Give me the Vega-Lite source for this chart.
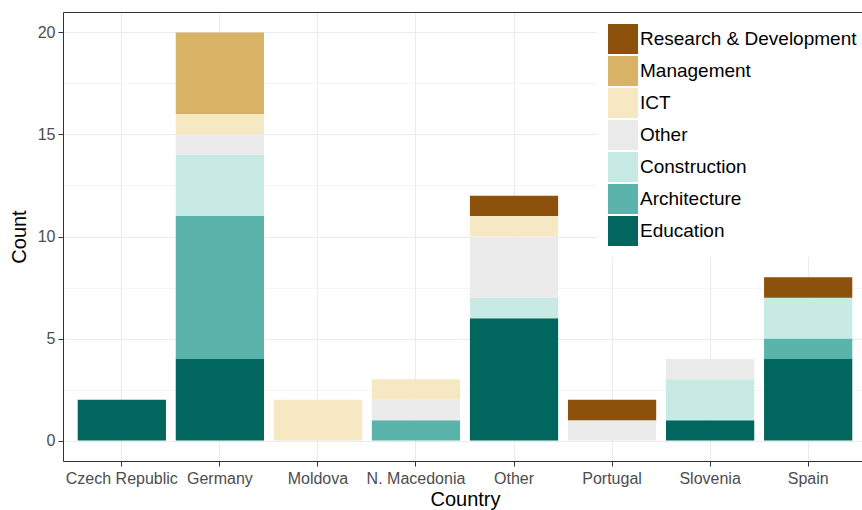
{
  "$schema": "https://vega.github.io/schema/vega-lite/v6.json",
  "width": 804,
  "height": 449,
  "autosize": "none",
  "padding": {"left": 63, "top": 12, "right": 0, "bottom": 49},
  "background": "white",
  "config": {
    "view": {"stroke": null},
    "font": "Liberation Sans"
  },
  "data": {
    "values": [
      {"Country": "Czech Republic", "Sector": "Education", "Count": 2},
      {"Country": "Germany", "Sector": "Education", "Count": 4},
      {"Country": "Germany", "Sector": "Architecture", "Count": 7},
      {"Country": "Germany", "Sector": "Construction", "Count": 3},
      {"Country": "Germany", "Sector": "Other", "Count": 1},
      {"Country": "Germany", "Sector": "ICT", "Count": 1},
      {"Country": "Germany", "Sector": "Management", "Count": 4},
      {"Country": "Moldova", "Sector": "ICT", "Count": 2},
      {"Country": "N. Macedonia", "Sector": "Architecture", "Count": 1},
      {"Country": "N. Macedonia", "Sector": "Other", "Count": 1},
      {"Country": "N. Macedonia", "Sector": "ICT", "Count": 1},
      {"Country": "Other", "Sector": "Education", "Count": 6},
      {"Country": "Other", "Sector": "Construction", "Count": 1},
      {"Country": "Other", "Sector": "Other", "Count": 3},
      {"Country": "Other", "Sector": "ICT", "Count": 1},
      {"Country": "Other", "Sector": "Research & Development", "Count": 1},
      {"Country": "Portugal", "Sector": "Other", "Count": 1},
      {"Country": "Portugal", "Sector": "Research & Development", "Count": 1},
      {"Country": "Slovenia", "Sector": "Education", "Count": 1},
      {"Country": "Slovenia", "Sector": "Construction", "Count": 2},
      {"Country": "Slovenia", "Sector": "Other", "Count": 1},
      {"Country": "Spain", "Sector": "Education", "Count": 4},
      {"Country": "Spain", "Sector": "Architecture", "Count": 1},
      {"Country": "Spain", "Sector": "Construction", "Count": 2},
      {"Country": "Spain", "Sector": "Research & Development", "Count": 1}
    ]
  },
  "transform": [
    {"calculate": "indexof(['Education', 'Architecture', 'Construction', 'Other', 'ICT', 'Management', 'Research & Development'], datum.Sector)", "as": "StackRank"}
  ],
  "encoding": {
    "y": {
      "field": "Count",
      "type": "quantitative",
      "stack": "zero",
      "scale": {"domain": [-1, 21], "nice": false, "zero": false},
      "axis": {
        "values": [0, 2.5, 5, 7.5, 10, 12.5, 15, 17.5, 20],
        "labelExpr": "datum.value % 5 === 0 ? datum.label : ''",
        "tickOpacity": {"condition": {"test": "datum.value % 5 === 0", "value": 1}, "value": 0},
        "gridWidth": {"condition": {"test": "datum.value % 5 === 0", "value": 1}, "value": 0.5},
        "labelFontSize": 16,
        "labelColor": "#4D4D4D",
        "labelPadding": 3,
        "tickColor": "#333333",
        "tickSize": 5,
        "domain": true,
        "domainColor": "#333333",
        "grid": true,
        "gridColor": "#EBEBEB",
        "title": "Count",
        "titleFontSize": 20,
        "titleFontWeight": "normal",
        "titleColor": "black",
        "titlePadding": 8
      }
    },
    "order": {"field": "StackRank", "type": "quantitative", "sort": "ascending"},
    "color": {
      "field": "Sector",
      "type": "nominal",
      "scale": {
        "domain": ["Research & Development", "Management", "ICT", "Other", "Construction", "Architecture", "Education"],
        "range": ["#8C510A", "#D8B365", "#F6E8C3", "#EBEBEB", "#C7EAE5", "#5AB4AC", "#01665E"]
      },
      "legend": {
        "orient": "none",
        "legendX": 534,
        "legendY": 1,
        "fillColor": "white",
        "padding": 11,
        "title": null,
        "symbolType": "square",
        "symbolSize": 900,
        "symbolStrokeWidth": 0,
        "symbolOpacity": 1,
        "labelFontSize": 19,
        "labelColor": "black",
        "labelOffset": 2,
        "labelLimit": 300,
        "rowPadding": 2
      }
    }
  },
  "layer": [
    {
      "mark": {"type": "bar"},
      "encoding": {
        "x": {
          "field": "Country",
          "type": "nominal",
          "scale": {"paddingInner": 0.1, "paddingOuter": 0.15},
          "axis": {
            "labelAngle": 0,
            "labelFontSize": 16,
            "labelColor": "#4D4D4D",
            "labelPadding": 4,
            "tickColor": "#333333",
            "tickSize": 5,
            "domain": true,
            "domainColor": "#333333",
            "grid": true,
            "gridColor": "#EBEBEB",
            "gridWidth": 1,
            "bandPosition": 0.5,
            "title": "Country",
            "titleFontSize": 20,
            "titleFontWeight": "normal",
            "titleColor": "black",
            "titlePadding": 3
          }
        }
      }
    },
    {
      "mark": {"type": "bar", "opacity": 0},
      "encoding": {
        "x": {
          "field": "Country",
          "type": "nominal",
          "axis": {
            "orient": "top",
            "domain": true,
            "domainColor": "#333333",
            "labels": false,
            "ticks": false,
            "grid": false,
            "title": null
          }
        }
      }
    }
  ],
  "resolve": {"axis": {"x": "independent"}}
}
